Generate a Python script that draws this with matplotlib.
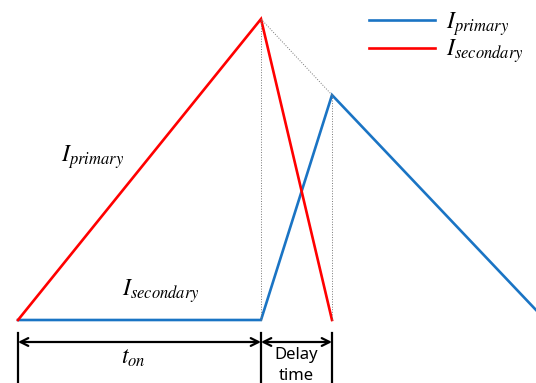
import matplotlib
matplotlib.use("Agg")
import matplotlib.pyplot as plt

plt.rcParams['mathtext.fontset'] = 'stix'
plt.rcParams['font.family'] = ['Noto Sans', 'DejaVu Sans']

# time points (px-like units from start of t_on)
t_on = 243
t_delay = 71
t_end = 518

# current waveforms
t_red = [0, t_on, t_on + t_delay]
i_red = [0, 301, 0]
t_blue = [0, t_on, t_on + t_delay, t_end]
i_blue = [0, 0, 225, 10]

legend_labels = [r'$I_{primary}$', r'$I_{secondary}$']

blue = '#1a74c4'
red = '#ff0000'

fig = plt.figure(figsize=(5.36, 3.83), dpi=100)
ax = fig.add_axes([0, 0, 1, 1])
ax.set_xlim(-18, 518)
ax.set_ylim(-63, 320)
ax.axis('off')

lb, = ax.plot(t_blue, i_blue, color=blue, lw=1.9, solid_joinstyle='miter')
lr, = ax.plot(t_red, i_red, color=red, lw=1.9, solid_joinstyle='miter')

# guide lines
ax.plot([t_on, t_on], [0, i_red[1]], color='#777777', lw=0.7, ls=':')
ax.plot([t_on + t_delay, t_on + t_delay], [0, i_blue[2]], color='#777777', lw=0.7, ls=':')
ax.plot([t_on, t_on + t_delay], [i_red[1], i_blue[2]], color='#777777', lw=0.7, ls=':')

# time markers
for x in [0, t_on, t_on + t_delay]:
    ax.plot([x, x], [-13, -70], color='black', lw=1.6, clip_on=False)
ax.annotate('', xy=(0, -22), xytext=(t_on, -22),
            arrowprops=dict(arrowstyle='<->', color='black', lw=1.6, mutation_scale=14,
                            shrinkA=0, shrinkB=0))
ax.annotate('', xy=(t_on, -22), xytext=(t_on + t_delay, -22),
            arrowprops=dict(arrowstyle='<->', color='black', lw=1.6, mutation_scale=14,
                            shrinkA=0, shrinkB=0))

ax.text(115, -38, r'$t_{on}$', fontsize=17, ha='center', va='center')
ax.text(t_on + t_delay / 2, -35, 'Delay', fontsize=12, ha='center', va='center')
ax.text(t_on + t_delay / 2, -56, 'time', fontsize=12, ha='center', va='center')

ax.text(75, 163, r'$I_{primary}$', fontsize=17, ha='center', va='center')
ax.text(143, 29, r'$I_{secondary}$', fontsize=17, ha='center', va='center')

ax.legend([lb, lr], legend_labels, loc='upper right', bbox_to_anchor=(1.0, 1.005),
          frameon=False, fontsize=17, handlelength=2.8, labelspacing=0.0,
          handletextpad=0.5, borderaxespad=0.1)

fig.savefig('out.png', dpi=100)
